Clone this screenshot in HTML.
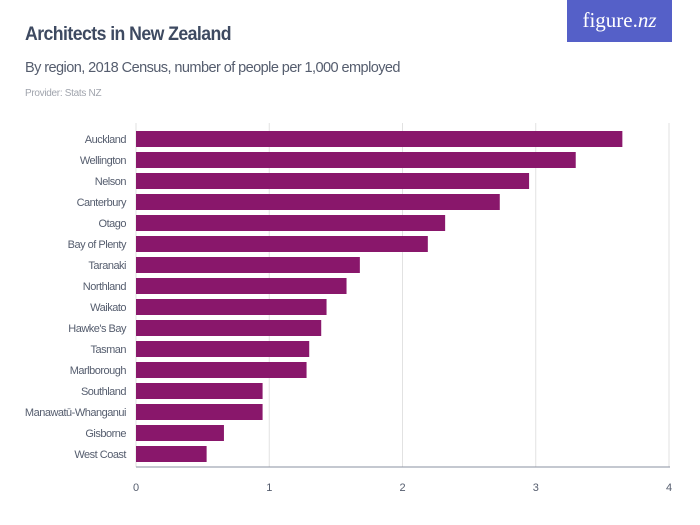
<!DOCTYPE html>
<html><head><meta charset="utf-8"><style>
body{margin:0;width:700px;height:525px;background:#fff;font-family:"Liberation Sans",sans-serif;overflow:hidden;position:relative}
.t{position:absolute;white-space:nowrap}
</style></head><body>
<div class="t" style="left:25px;top:24px;font-size:19px;color:#3e4a61;letter-spacing:-0.6px;font-weight:bold;transform:scaleX(0.93);transform-origin:left">Architects in New Zealand</div>
<div class="t" style="left:25px;top:59px;font-size:15px;color:#555d6e;letter-spacing:-0.6px;transform:scaleX(0.97);transform-origin:left">By region, 2018 Census, number of people per 1,000 employed</div>
<div class="t" style="left:25px;top:88px;font-size:10px;color:#a0a4ad;letter-spacing:-0.3px">Provider: Stats NZ</div>
<div style="position:absolute;left:567px;top:0;width:105px;height:42px;background:#5560c8;color:#fff;font-family:'Liberation Serif',serif;font-size:21px;text-align:center;line-height:40px">figure.<i>nz</i></div>
<svg id="c" width="700" height="525" style="position:absolute;left:0;top:0"></svg>
<script>
const categories=["Auckland","Wellington","Nelson","Canterbury","Otago","Bay of Plenty","Taranaki","Northland","Waikato","Hawke's Bay","Tasman","Marlborough","Southland","Manawatū-Whanganui","Gisborne","West Coast"];
const values=[3.65,3.30,2.95,2.73,2.32,2.19,1.68,1.58,1.43,1.39,1.30,1.28,0.95,0.95,0.66,0.53];
const ticks=[0,1,2,3,4];
const svg=document.getElementById('c');const NS='http://www.w3.org/2000/svg';
const x=v=>136+v*133.25;const y=i=>131+i*21;
function mk(t,a){const e=document.createElementNS(NS,t);for(const k in a)e.setAttribute(k,a[k]);svg.appendChild(e);return e;}
ticks.forEach(t=>{
const g=mk('line',{x1:x(t),x2:x(t),y1:123,y2:467,stroke:'#e2e2e2','stroke-width':1});


const l=mk('text',{x:x(t),y:491,'text-anchor':'middle','font-size':11,fill:'#555d6e'});l.textContent=t;


});
const ax=mk('line',{x1:136,x2:670,y1:467,y2:467,stroke:'#8a90a0','stroke-width':1});


categories.forEach((c,i)=>{
const r=mk('rect',{x:x(0),y:y(i),width:x(values[i])-x(0),height:16,fill:'#89176b'});


const l=mk('text',{x:126,y:y(i)+12,'text-anchor':'end','font-size':11,fill:'#555d6e','letter-spacing':'-0.5'});l.textContent=c;


});
</script>
</body></html>
